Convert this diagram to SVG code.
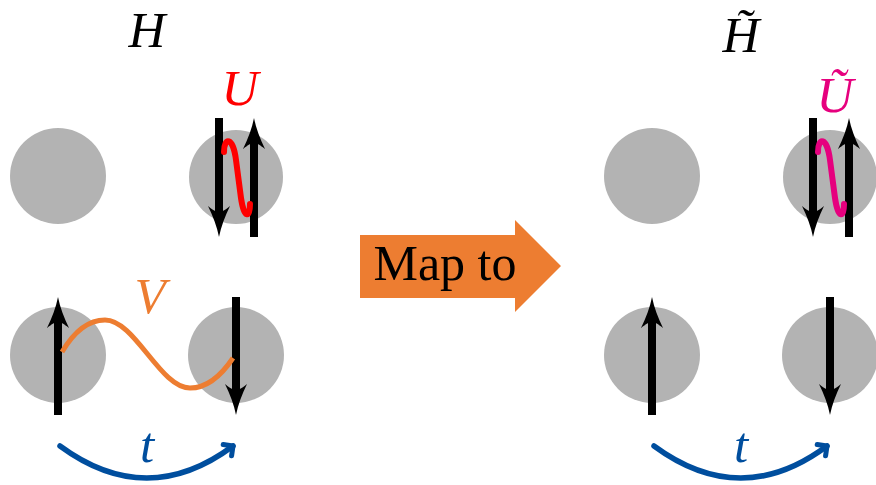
<svg xmlns="http://www.w3.org/2000/svg" width="876" height="485" viewBox="0 0 876 485">
<style>
.site{fill:#b3b3b3}
.bar{stroke:#000;stroke-width:8;fill:none}
.lbl{font-family:"Liberation Serif","DejaVu Serif",serif;font-style:italic;font-size:51px;text-anchor:middle}
.hop{stroke:#004e9e;stroke-width:5.5;fill:none;stroke-linecap:round}
</style>
<defs>
<path id="head" d="M0,0 C2,10 6,21 11,31 C6,27 3,25 0,25 C-3,25 -6,27 -11,31 C-6,21 -2,10 0,0 Z" fill="#000"/>
<marker id="bh" viewBox="-10 -10 20 20" markerWidth="20" markerHeight="20" refX="0" refY="0" orient="auto" markerUnits="userSpaceOnUse">
<path d="M-7,-7 L0,0 L-7,7" fill="none" stroke="#004e9e" stroke-width="5" stroke-linecap="round" stroke-linejoin="round"/>
</marker>
</defs>

<!-- left panel -->
<g id="title-H"><text class="lbl" x="147" y="47">H</text></g>
<g id="site-tl"><circle class="site" cx="58" cy="176" r="48"/></g>
<g id="site-tr">
<circle class="site" cx="236" cy="177" r="47"/>
<line class="bar" x1="219" y1="118" x2="219" y2="215"/>
<use href="#head" transform="translate(219,237) rotate(180)"/>
<line class="bar" x1="254" y1="237" x2="254" y2="140"/>
<use href="#head" transform="translate(254,118)"/>
</g>
<g id="site-bl">
<circle class="site" cx="58" cy="355" r="48"/>
<line class="bar" x1="58" y1="415" x2="58" y2="318"/>
<use href="#head" transform="translate(58,297)"/>
</g>
<g id="site-br">
<circle class="site" cx="236" cy="355" r="48"/>
<line class="bar" x1="236" y1="297" x2="236" y2="394"/>
<use href="#head" transform="translate(236,415) rotate(180)"/>
</g>

<!-- right panel -->
<g id="title-Ht"><text class="lbl" x="741" y="52">H&#x303;</text></g>
<g id="site2-tl"><circle class="site" cx="652" cy="176" r="48"/></g>
<g id="site2-tr">
<circle class="site" cx="830" cy="177" r="47"/>
<line class="bar" x1="813" y1="118" x2="813" y2="215"/>
<use href="#head" transform="translate(813,237) rotate(180)"/>
<line class="bar" x1="849" y1="237" x2="849" y2="140"/>
<use href="#head" transform="translate(849,118)"/>
</g>
<g id="site2-bl">
<circle class="site" cx="652" cy="355" r="48"/>
<line class="bar" x1="652" y1="415" x2="652" y2="318"/>
<use href="#head" transform="translate(652,297)"/>
</g>
<g id="site2-br">
<circle class="site" cx="830" cy="355" r="48"/>
<line class="bar" x1="830" y1="297" x2="830" y2="394"/>
<use href="#head" transform="translate(830,415) rotate(180)"/>
</g>

<!-- map arrow -->
<g id="map-arrow">
<path d="M360,235 L515,235 L515,220 L561,266 L515,312 L515,298 L360,298 Z" fill="#ed7d31"/>
<text x="445" y="280" font-family="Liberation Serif, DejaVu Serif, serif" font-size="50" text-anchor="middle" fill="#000">Map to</text>
</g>

<!-- connectors -->
<g id="connectors">
<path d="M224,152 C224,137 233,136 236,160 L241,198 C244,219 250,218 250,204" stroke="#ff0000" stroke-width="6" fill="none" stroke-linecap="round"/>
<text class="lbl" x="240" y="105" fill="#ff0000">U</text>
<path d="M818,152 C818,137 827,136 830,160 L835,198 C838,219 844,218 844,204" stroke="#e6007e" stroke-width="6" fill="none" stroke-linecap="round"/>
<text class="lbl" x="835" y="112" fill="#e6007e">U&#x303;</text>
<path d="M62,352 C75,330 90,320 105,320 C135,320 160,388 190,388 C210,388 225,370 233,358" stroke="#ed7d31" stroke-width="5" fill="none"/>
<text class="lbl" x="150" y="313" fill="#ed7d31">V</text>
<path class="hop" d="M60,446 Q147,510 233,446" marker-end="url(#bh)"/>
<text class="lbl" x="147" y="462" fill="#004e9e">t</text>
<path class="hop" d="M654,446 Q741,510 827,446" marker-end="url(#bh)"/>
<text class="lbl" x="741" y="462" fill="#004e9e">t</text>
</g>
</svg>
